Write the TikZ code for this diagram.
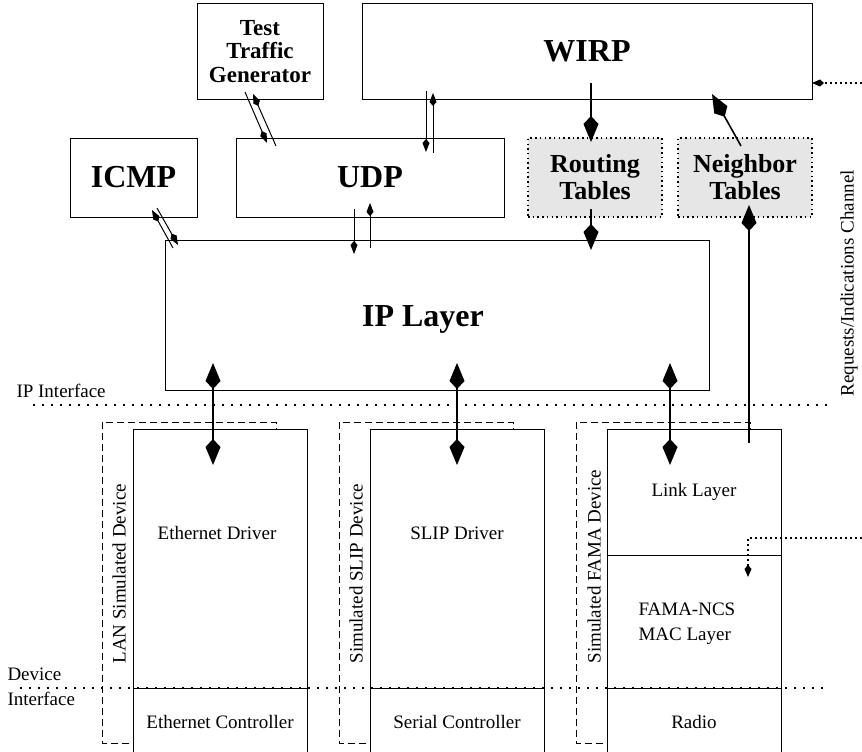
\documentclass[tikz,border=0pt]{standalone}
\usepackage{fontspec}
\setmainfont{Liberation Serif}
\usepackage{tikz}
\usetikzlibrary{arrows.meta,calc,positioning,backgrounds}
\definecolor{Ink}{HTML}{000000}
\definecolor{TableGrey}{HTML}{E6E6E6}

\begin{document}
\begin{tikzpicture}[x=1pt,y=-1pt,line width=1pt,
    layerbox/.style={draw=Ink,fill=white,outer sep=0pt,inner sep=0pt,anchor=north west,
      font=\fontsize{19}{24}\selectfont},
    tablebox/.style={layerbox,fill=TableGrey,dash pattern=on 1.5pt off 3.2pt,line width=1.2pt,
      align=center,font=\fontsize{26}{27}\selectfont\bfseries},
    headfont/.style={font=\fontsize{32}{34}\selectfont\bfseries},
    plain/.style={font=\fontsize{19}{25}\selectfont,inner sep=0pt},
    simlabel/.style={plain,rotate=90,anchor=west},
    simframe/.style={draw=Ink,dash pattern=on 7pt off 4pt},
    ifline/.style={draw=Ink,line width=1.4pt,dash pattern=on 1.6pt off 7.4pt},
    chanarrow/.style={draw=Ink,line width=1.4pt,dash pattern=on 1.6pt off 3.4pt,
      -{Kite[length=12pt,width=7pt,inset=4pt]}},
    bigarrow/.style={line width=1.6pt,-{Kite[length=26pt,width=15pt,inset=8pt]}},
    bothways/.style={line width=1.6pt,{Kite[length=26pt,width=15pt,inset=8pt]}-{Kite[length=26pt,width=15pt,inset=8pt]}},
    smallarrow/.style={-{Kite[length=13pt,width=7pt,inset=4pt]}}]
  \useasboundingbox (0,0) rectangle (862,752);

  % upper protocol stack
  \node[layerbox,align=center,font=\fontsize{23}{23.5}\selectfont\bfseries,
        minimum width=126pt,minimum height=95pt] (ttg) at (197,4) {Test\\Traffic\\Generator};
  \node[layerbox,headfont,minimum width=450pt,minimum height=95pt] (wirp) at (362,4) {WIRP};
  \node[layerbox,headfont,minimum width=127pt,minimum height=79pt] (icmp) at (70,138) {ICMP};
  \node[layerbox,headfont,minimum width=268pt,minimum height=79pt] (udp) at (236,138) {UDP};
  \node[tablebox,minimum width=134pt,minimum height=79pt] (routing) at (528,138) {Routing\\Tables};
  \node[tablebox,minimum width=134pt,minimum height=79pt] (neighbor) at (678,138) {Neighbor\\Tables};
  \node[layerbox,minimum width=544pt,minimum height=150pt] (ip) at (165,240) {};
  \node[headfont] (iplabel) at (423,319) {IP Layer};

  % simulated devices
  \node[layerbox,minimum width=174pt,minimum height=259pt] (ethdrv) at (133,429) {};
  \node[layerbox,minimum width=174pt,minimum height=68pt,below=0pt of ethdrv] (ethctl) {Ethernet Controller};
  \node[layerbox,minimum width=174pt,minimum height=259pt,right=63pt of ethdrv] (slipdrv) {};
  \node[layerbox,minimum width=174pt,minimum height=68pt,below=0pt of slipdrv] (serial) {Serial Controller};
  \node[layerbox,minimum width=174pt,minimum height=126pt,right=63pt of slipdrv.north east,
        anchor=north west] (link) {Link Layer};
  \node[layerbox,minimum width=174pt,minimum height=133pt,below=0pt of link] (mac) {};
  \node[layerbox,minimum width=174pt,minimum height=68pt,below=0pt of mac] (radio) {Radio};
  \node[plain] (ethtext) at (217,533) {Ethernet Driver};
  \node[plain] (sliptext) at (457,533) {SLIP Driver};
  \node[plain,align=left,anchor=west] (mactext) at (638,624) {FAMA-NCS\\MAC Layer};

  \begin{scope}[on background layer]
    \foreach \d in {ethdrv,slipdrv,link}
      \draw[simframe] (\d.north west) ++(-31,-7) rectangle ++(174,321);
  \end{scope}
  \node[simlabel] (lansim) at (119,664) {LAN Simulated Device};
  \node[simlabel] (slipsim) at (356,664) {Simulated SLIP Device};
  \node[simlabel] (famasim) at (594,664) {Simulated FAMA Device};

  % interfaces
  \node[plain,anchor=west] (ipif) at (16,391) {IP Interface};
  \node[plain,anchor=west,align=left] (devif) at (7,687) {Device\\Interface};
  \draw[ifline] (33,405) -- (828,405);
  \draw[ifline] (20,688) -- (828,688);
  \node[simlabel] (reqchan) at (849,397) {Requests/Indications Channel};

  % arrow ends
  \foreach \n/\x/\y in {ethup/213/363,ethdn/213/465,slipup/457/363,slipdn/457/465,
      famaup/670/363,famadn/670/465,wirpout/591/83,rtin/591/142,rtout/591/209,rtip/591/250,
      nbout/741/146,nbwirp/712/94,linkout/749/443,nbin/749/205,
      ttga/245/92,udpa/267/143,udpb/276/146,ttgb/253/94,
      ipa/173/248,icmpa/152/210,icmpb/157/208,ipb/178/245,
      udpc/354/209,ipc/354/254,ipd/370/248,udpd/370/203,
      wirpc/426/91,udpe/426/152,udpf/433/153,wirpd/433/93,
      reqin/862/83,reqout/862/538,macin/748/577}
    \coordinate (\n) at (\x,\y);

  \foreach \a/\b in {ethup/ethdn,slipup/slipdn,famaup/famadn}
    \draw[bothways] (\a) -- (\b);
  \foreach \a/\b in {wirpout/rtin,rtout/rtip,nbout/nbwirp,linkout/nbin}
    \draw[bigarrow] (\a) -- (\b);
  \foreach \a/\b in {ttga/udpa,udpb/ttgb,ipa/icmpa,icmpb/ipb,udpc/ipc,ipd/udpd,wirpc/udpe,udpf/wirpd}
    \draw[smallarrow] (\a) -- (\b);
  \draw[chanarrow] (reqin) -- (reqin -| wirp.east);
  \draw[chanarrow] (reqout) -| (macin);
\end{tikzpicture}
\end{document}
